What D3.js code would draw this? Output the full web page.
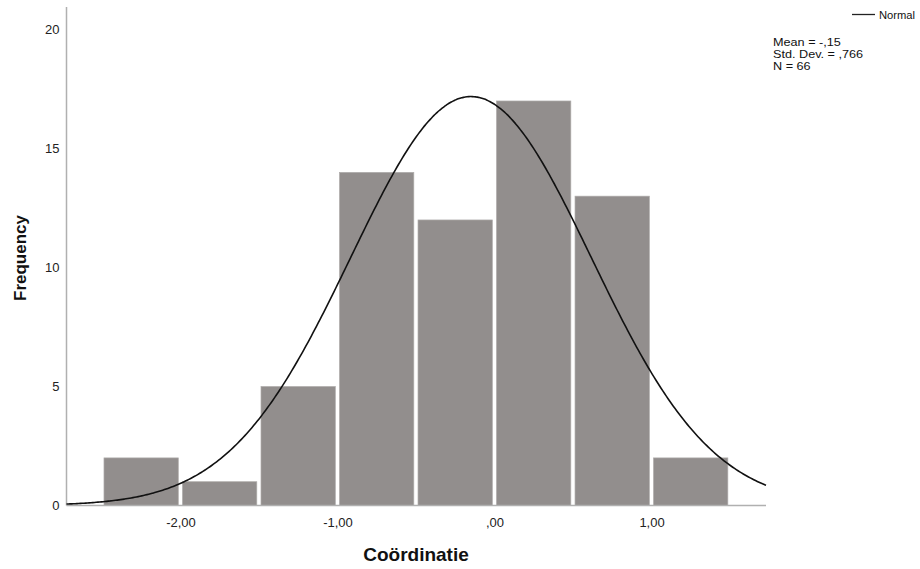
<!DOCTYPE html>
<html>
<head>
<meta charset="utf-8">
<script src="https://cdn.jsdelivr.net/npm/d3@7/dist/d3.min.js"></script>
<style>
  body { margin: 0; background: #fff; }
  svg { display: block; font-family: "Liberation Sans", Arial, sans-serif; }
</style>
</head>
<body>
<svg id="chart" width="920" height="569"></svg>
<script>
// Histogram bins (lower edge, upper edge) and their frequencies
const binStarts = [-2.5, -2.0, -1.5, -1.0, -0.5, 0.0, 0.5, 1.0];
const binEnds   = [-2.0, -1.5, -1.0, -0.5, 0.0, 0.5, 1.0, 1.5];
const counts    = [2, 1, 5, 14, 12, 17, 13, 2];

// Summary statistics for the fitted normal curve
const mean = -0.15;
const stdDev = 0.766;
const n = 66;

// Axis ticks and labels
const xTicks = [-2, -1, 0, 1];
const xTickLabels = ["-2,00", "-1,00", ",00", "1,00"];
const yTicks = [0, 5, 10, 15, 20];

const svg = d3.select("#chart");
const plotLeft = 66.5, plotRight = 766, plotTop = 7, plotBottom = 505.5;

const x = d3.scaleLinear().domain([-2.726, 1.729]).range([plotLeft, plotRight]);
const y = d3.scaleLinear().domain([0, 20.95]).range([plotBottom, plotTop]);

// Bars
const bars = binStarts.map((s, i) => ({ s, e: binEnds[i], c: counts[i] }));
svg.append("g").selectAll("rect").data(bars).enter().append("rect")
  .attr("x", d => x(d.s) + 2)
  .attr("y", d => y(d.c))
  .attr("width", d => x(d.e) - x(d.s) - 4.2)
  .attr("height", d => y(0) - y(d.c))
  .attr("fill", "#928e8d")
  .attr("stroke", "#aeabaa")
  .attr("stroke-width", 0.7);

// Axes
const xAxis = d3.axisBottom(x).tickValues(xTicks)
  .tickFormat((d, i) => xTickLabels[i]).tickSize(0).tickPadding(12);
const gx = svg.append("g").attr("transform", `translate(0,${plotBottom})`).call(xAxis);
gx.select(".domain").attr("stroke", "#b0b0b0").attr("stroke-width", 1.5)
  .attr("d", `M${plotLeft},0H${plotRight}`);
gx.selectAll("text").attr("font-size", 13).attr("fill", "#222")
  .attr("font-family", "Liberation Sans, Arial, sans-serif");

const yAxis = d3.axisLeft(y).tickValues(yTicks).tickSize(0).tickPadding(7);
const gy = svg.append("g").attr("transform", `translate(${plotLeft},0)`).call(yAxis);
gy.select(".domain").attr("stroke", "#b0b0b0").attr("stroke-width", 1.5)
  .attr("d", `M0,${plotTop}V${plotBottom}`);
gy.selectAll("text").attr("font-size", 13).attr("fill", "#222")
  .attr("font-family", "Liberation Sans, Arial, sans-serif");

// Normal density scaled to the histogram: N * bin width * pdf
const binWidth = binEnds[0] - binStarts[0];
const pdf = v => Math.exp(-0.5 * ((v - mean) / stdDev) ** 2) / (stdDev * Math.sqrt(2 * Math.PI));
const curve = d3.range(0, 401).map(i => {
  const v = x.domain()[0] + (x.domain()[1] - x.domain()[0]) * i / 400;
  return [v, n * binWidth * pdf(v)];
});
svg.append("path")
  .datum(curve)
  .attr("fill", "none")
  .attr("stroke", "#111")
  .attr("stroke-width", 1.6)
  .attr("d", d3.line().x(d => x(d[0])).y(d => y(d[1])).curve(d3.curveBasis));

// Axis titles
svg.append("text").attr("x", 416).attr("y", 561)
  .attr("text-anchor", "middle").attr("font-size", 19).attr("font-weight", "bold")
  .attr("fill", "#111").text("Coördinatie");
svg.append("text").attr("transform", "translate(26,258) rotate(-90)")
  .attr("text-anchor", "middle").attr("font-size", 17).attr("font-weight", "bold")
  .attr("fill", "#111").text("Frequency");

// Legend
svg.append("line").attr("x1", 852).attr("x2", 875).attr("y1", 14.5).attr("y2", 14.5)
  .attr("stroke", "#222").attr("stroke-width", 1.3);
svg.append("text").attr("x", 879).attr("y", 18.5).attr("font-size", 11.2)
  .attr("fill", "#111").text("Normal");

// Summary statistics block, slightly widened horizontally
const stats = ["Mean = -,15", "Std. Dev. = ,766", "N = 66"];
svg.append("g")
  .attr("transform", "translate(773,0) scale(1.13,1)")
  .selectAll("text").data(stats).enter().append("text")
  .attr("x", 0).attr("y", (d, i) => 46 + i * 12)
  .attr("font-size", 11.2).attr("fill", "#111").text(d => d);
</script>
</body>
</html>
